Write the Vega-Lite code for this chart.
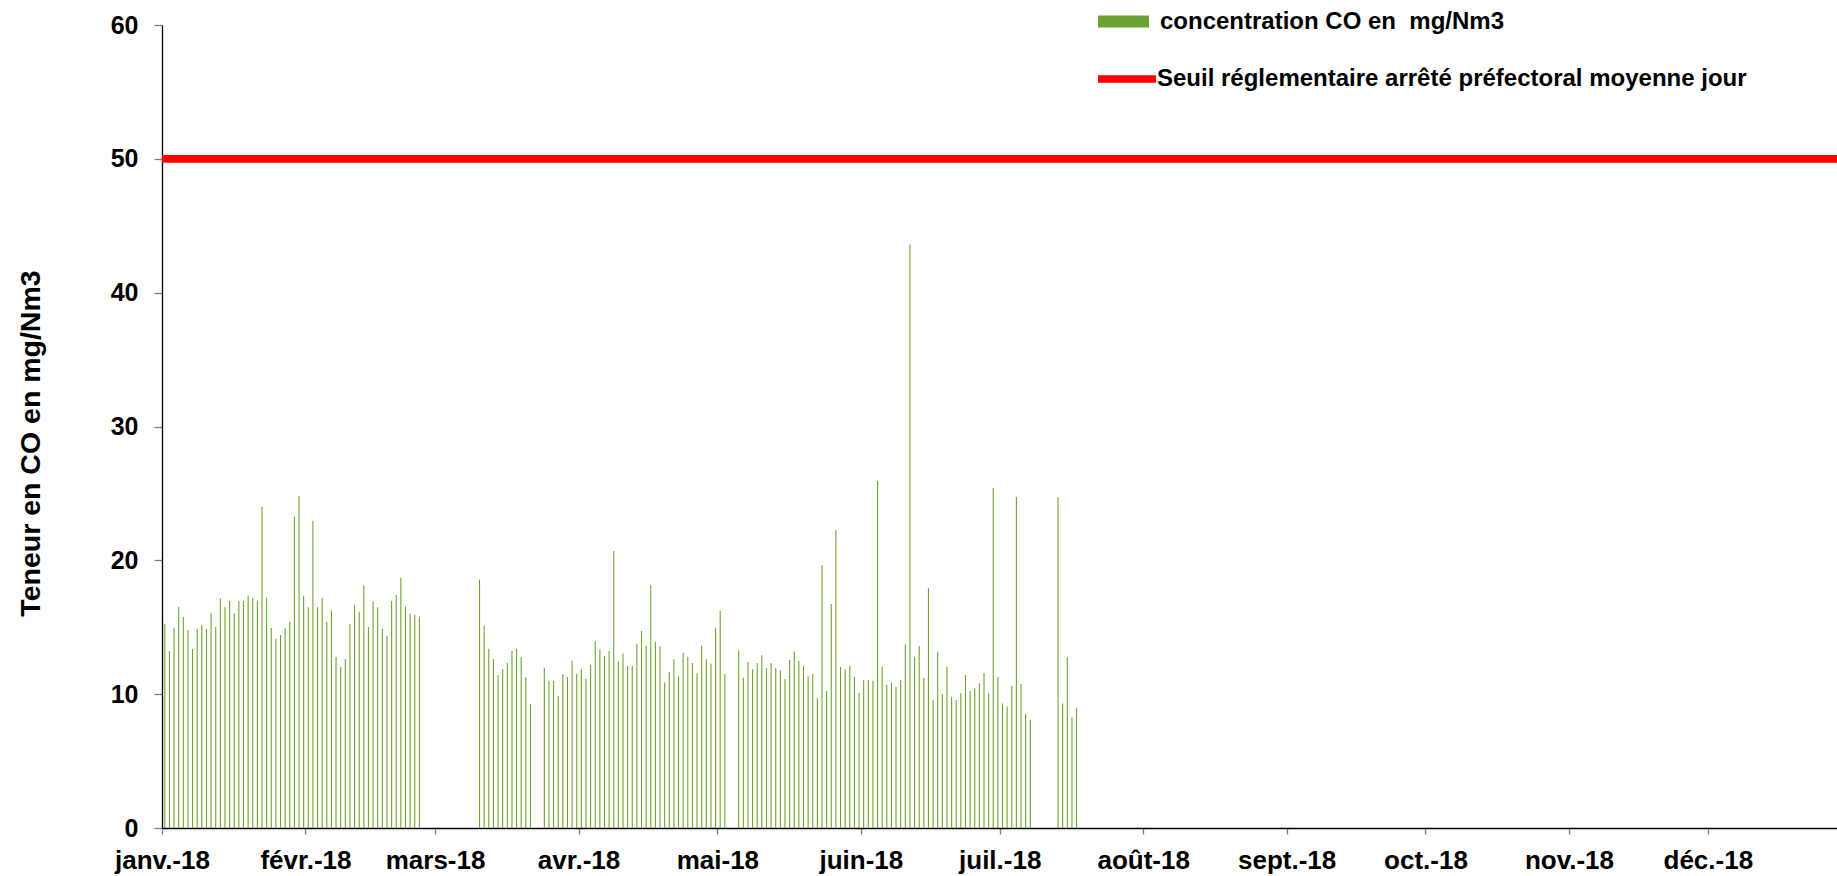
{
  "$schema": "https://vega.github.io/schema/vega-lite/v6.json",
  "width": 1675,
  "height": 803,
  "autosize": {"type": "none"},
  "padding": {"left": 162, "top": 25, "right": 0, "bottom": 48},
  "background": "white",
  "config": {"view": {"stroke": null}, "font": "Liberation Sans"},
  "datasets": {
    "co": [
      {"date": "2018-01-01", "co": 15.27}, {"date": "2018-01-02", "co": 13.22}, {"date": "2018-01-03", "co": 14.94}, {"date": "2018-01-04", "co": 16.54}, {"date": "2018-01-05", "co": 15.77}, {"date": "2018-01-06", "co": 14.79}, {"date": "2018-01-07", "co": 13.37}, {"date": "2018-01-08", "co": 14.89}, {"date": "2018-01-09", "co": 15.19}, {"date": "2018-01-10", "co": 14.87},
      {"date": "2018-01-11", "co": 16.09}, {"date": "2018-01-12", "co": 15.02}, {"date": "2018-01-13", "co": 17.14}, {"date": "2018-01-14", "co": 16.54}, {"date": "2018-01-15", "co": 16.96}, {"date": "2018-01-16", "co": 16.04}, {"date": "2018-01-17", "co": 16.96}, {"date": "2018-01-18", "co": 16.96}, {"date": "2018-01-19", "co": 17.36}, {"date": "2018-01-20", "co": 17.19},
      {"date": "2018-01-21", "co": 16.99}, {"date": "2018-01-22", "co": 24.01}, {"date": "2018-01-23", "co": 17.21}, {"date": "2018-01-24", "co": 14.94}, {"date": "2018-01-25", "co": 14.15}, {"date": "2018-01-26", "co": 14.42}, {"date": "2018-01-27", "co": 14.97}, {"date": "2018-01-28", "co": 15.42}, {"date": "2018-01-29", "co": 23.26}, {"date": "2018-01-30", "co": 24.83},
      {"date": "2018-01-31", "co": 17.33}, {"date": "2018-02-01", "co": 16.49}, {"date": "2018-02-02", "co": 22.96}, {"date": "2018-02-03", "co": 16.49}, {"date": "2018-02-04", "co": 17.21}, {"date": "2018-02-05", "co": 15.42}, {"date": "2018-02-06", "co": 16.26}, {"date": "2018-02-07", "co": 12.78}, {"date": "2018-02-08", "co": 12.03}, {"date": "2018-02-09", "co": 12.63},
      {"date": "2018-02-10", "co": 15.27}, {"date": "2018-02-11", "co": 16.69}, {"date": "2018-02-12", "co": 16.16}, {"date": "2018-02-13", "co": 18.13}, {"date": "2018-02-14", "co": 15.02}, {"date": "2018-02-15", "co": 16.94}, {"date": "2018-02-16", "co": 16.49}, {"date": "2018-02-17", "co": 14.89}, {"date": "2018-02-18", "co": 14.37}, {"date": "2018-02-19", "co": 16.96},
      {"date": "2018-02-20", "co": 17.41}, {"date": "2018-02-21", "co": 18.7}, {"date": "2018-02-22", "co": 16.54}, {"date": "2018-02-23", "co": 16.01}, {"date": "2018-02-24", "co": 15.94}, {"date": "2018-02-25", "co": 15.79},
      {"date": "2018-03-10", "co": 18.55}, {"date": "2018-03-11", "co": 15.12}, {"date": "2018-03-12", "co": 13.4}, {"date": "2018-03-13", "co": 12.63}, {"date": "2018-03-14", "co": 11.41}, {"date": "2018-03-15", "co": 11.86}, {"date": "2018-03-16", "co": 12.35}, {"date": "2018-03-17", "co": 13.23}, {"date": "2018-03-18", "co": 13.4}, {"date": "2018-03-19", "co": 12.75}, {"date": "2018-03-20", "co": 11.26}, {"date": "2018-03-21", "co": 9.29},
      {"date": "2018-03-24", "co": 11.98}, {"date": "2018-03-25", "co": 11.01}, {"date": "2018-03-26", "co": 11.01}, {"date": "2018-03-27", "co": 9.89}, {"date": "2018-03-28", "co": 11.51}, {"date": "2018-03-29", "co": 11.28}, {"date": "2018-03-30", "co": 12.5}, {"date": "2018-03-31", "co": 11.53},
      {"date": "2018-04-01", "co": 11.88}, {"date": "2018-04-02", "co": 11.16}, {"date": "2018-04-03", "co": 12.2}, {"date": "2018-04-04", "co": 13.97}, {"date": "2018-04-05", "co": 13.33}, {"date": "2018-04-06", "co": 12.85}, {"date": "2018-04-07", "co": 13.23}, {"date": "2018-04-08", "co": 20.7}, {"date": "2018-04-09", "co": 12.45}, {"date": "2018-04-10", "co": 13.03},
      {"date": "2018-04-11", "co": 12.1}, {"date": "2018-04-12", "co": 12.13}, {"date": "2018-04-13", "co": 13.77}, {"date": "2018-04-14", "co": 14.72}, {"date": "2018-04-15", "co": 13.62}, {"date": "2018-04-16", "co": 18.13}, {"date": "2018-04-17", "co": 13.92}, {"date": "2018-04-18", "co": 13.57}, {"date": "2018-04-19", "co": 10.88}, {"date": "2018-04-20", "co": 11.68},
      {"date": "2018-04-21", "co": 12.6}, {"date": "2018-04-22", "co": 11.33}, {"date": "2018-04-23", "co": 13.1}, {"date": "2018-04-24", "co": 12.8}, {"date": "2018-04-25", "co": 12.33}, {"date": "2018-04-26", "co": 11.56}, {"date": "2018-04-27", "co": 13.62}, {"date": "2018-04-28", "co": 12.6}, {"date": "2018-04-29", "co": 12.28}, {"date": "2018-04-30", "co": 14.97},
      {"date": "2018-05-01", "co": 16.24}, {"date": "2018-05-02", "co": 11.51},
      {"date": "2018-05-05", "co": 13.28}, {"date": "2018-05-06", "co": 11.23}, {"date": "2018-05-07", "co": 12.43}, {"date": "2018-05-08", "co": 11.86}, {"date": "2018-05-09", "co": 12.33}, {"date": "2018-05-10", "co": 12.9}, {"date": "2018-05-11", "co": 11.96}, {"date": "2018-05-12", "co": 12.33}, {"date": "2018-05-13", "co": 11.96}, {"date": "2018-05-14", "co": 11.78},
      {"date": "2018-05-15", "co": 11.13}, {"date": "2018-05-16", "co": 12.55}, {"date": "2018-05-17", "co": 13.18}, {"date": "2018-05-18", "co": 12.48}, {"date": "2018-05-19", "co": 12.1}, {"date": "2018-05-20", "co": 11.33}, {"date": "2018-05-21", "co": 11.51}, {"date": "2018-05-22", "co": 9.74}, {"date": "2018-05-23", "co": 19.63}, {"date": "2018-05-24", "co": 10.24},
      {"date": "2018-05-25", "co": 16.74}, {"date": "2018-05-26", "co": 22.24}, {"date": "2018-05-27", "co": 12.03}, {"date": "2018-05-28", "co": 11.86}, {"date": "2018-05-29", "co": 12.13}, {"date": "2018-05-30", "co": 11.28}, {"date": "2018-05-31", "co": 10.09},
      {"date": "2018-06-01", "co": 11.06}, {"date": "2018-06-02", "co": 11.06}, {"date": "2018-06-03", "co": 11.01}, {"date": "2018-06-04", "co": 25.93}, {"date": "2018-06-05", "co": 12.05}, {"date": "2018-06-06", "co": 10.71}, {"date": "2018-06-07", "co": 10.88}, {"date": "2018-06-08", "co": 10.54}, {"date": "2018-06-09", "co": 11.08}, {"date": "2018-06-10", "co": 13.72},
      {"date": "2018-06-11", "co": 43.6}, {"date": "2018-06-12", "co": 12.8}, {"date": "2018-06-13", "co": 13.6}, {"date": "2018-06-14", "co": 11.23}, {"date": "2018-06-15", "co": 17.91}, {"date": "2018-06-16", "co": 9.54}, {"date": "2018-06-17", "co": 13.15}, {"date": "2018-06-18", "co": 9.99}, {"date": "2018-06-19", "co": 12.05}, {"date": "2018-06-20", "co": 9.79},
      {"date": "2018-06-21", "co": 9.56}, {"date": "2018-06-22", "co": 10.06}, {"date": "2018-06-23", "co": 11.43}, {"date": "2018-06-24", "co": 10.24}, {"date": "2018-06-25", "co": 10.44}, {"date": "2018-06-26", "co": 10.81}, {"date": "2018-06-27", "co": 11.58}, {"date": "2018-06-28", "co": 10.06}, {"date": "2018-06-29", "co": 25.4}, {"date": "2018-06-30", "co": 11.28},
      {"date": "2018-07-01", "co": 9.31}, {"date": "2018-07-02", "co": 9.07}, {"date": "2018-07-03", "co": 10.61}, {"date": "2018-07-04", "co": 24.73}, {"date": "2018-07-05", "co": 10.76}, {"date": "2018-07-06", "co": 8.54}, {"date": "2018-07-07", "co": 8.09},
      {"date": "2018-07-13", "co": 24.71}, {"date": "2018-07-14", "co": 9.31}, {"date": "2018-07-15", "co": 12.78}, {"date": "2018-07-16", "co": 8.27}, {"date": "2018-07-17", "co": 8.99}
    ],
    "seuil": [
      {"seuil": 50, "serie": "Seuil réglementaire arrêté préfectoral moyenne jour"}
    ]
  },
  "layer": [
    {
      "data": {"name": "co"},
      "mark": {"type": "bar", "width": {"band": 0.45}},
      "encoding": {
        "x": {
          "field": "date",
          "type": "temporal",
          "timeUnit": "utcyearmonthdate",
          "scale": {
            "type": "utc",
            "domain": [
              {"year": 2018, "month": 1, "date": 1, "utc": true},
              {"year": 2018, "month": 12, "date": 28, "hours": 22, "utc": true}
            ]
          },
          "axis": {
            "title": null,
            "tickCount": {"interval": "month", "step": 1},
            "labelExpr": "['janv.','févr.','mars','avr.','mai','juin','juil.','août','sept.','oct.','nov.','déc.'][utcmonth(datum.value)] + '-18'",
            "labelFont": "Liberation Sans",
            "labelFontSize": 26,
            "labelFontWeight": "bold",
            "labelColor": "#000000",
            "labelPadding": 13,
            "labelFlush": false,
            "labelOverlap": false,
            "tickSize": 6,
            "tickColor": "#808080",
            "tickWidth": 1.3,
            "domainColor": "#000000",
            "domainWidth": 1.3,
            "grid": false
          }
        },
        "y": {
          "field": "co",
          "type": "quantitative",
          "scale": {"domain": [0, 60], "nice": false},
          "axis": {
            "values": [0, 10, 20, 30, 40, 50, 60],
            "title": "Teneur en CO en mg/Nm3",
            "titleFont": "Liberation Sans",
            "titleFontSize": 28.5,
            "titleFontWeight": "bold",
            "titleColor": "#000000",
            "titleBaseline": "alphabetic",
            "titleX": -123,
            "titleY": 418,
            "labelFont": "Liberation Sans",
            "labelFontSize": 25,
            "labelFontWeight": "bold",
            "labelColor": "#000000",
            "labelPadding": 16,
            "tickSize": 8,
            "tickColor": "#808080",
            "tickWidth": 1.3,
            "domainColor": "#000000",
            "domainWidth": 1.3,
            "grid": false
          }
        },
        "fill": {
          "datum": "concentration CO en \u00a0mg/Nm3",
          "type": "nominal",
          "scale": {"range": ["#6BA330"]},
          "legend": {
            "orient": "none",
            "legendX": 936,
            "legendY": -29,
            "title": null,
            "padding": 0,
            "offset": 0,
            "symbolType": "M-1,-0.235H1V0.235H-1Z",
            "symbolSize": 2601,
            "symbolStrokeWidth": 0,
            "labelFont": "Liberation Sans",
            "labelFontSize": 24,
            "labelFontWeight": "bold",
            "labelColor": "#000000",
            "labelOffset": 11,
            "labelLimit": 1000
          }
        }
      }
    },
    {
      "data": {"name": "seuil"},
      "mark": {"type": "rule", "strokeWidth": 7.7},
      "encoding": {
        "y": {"field": "seuil", "type": "quantitative"},
        "stroke": {
          "field": "serie",
          "type": "nominal",
          "scale": {"range": ["#FF0000"]},
          "legend": {
            "orient": "none",
            "legendX": 932,
            "legendY": 21,
            "title": null,
            "padding": 0,
            "offset": 0,
            "symbolType": "stroke",
            "symbolSize": 3364,
            "symbolStrokeWidth": 7.7,
            "labelFont": "Liberation Sans",
            "labelFontSize": 24,
            "labelFontWeight": "bold",
            "labelColor": "#000000",
            "labelOffset": -3,
            "labelLimit": 1000
          }
        }
      }
    }
  ]
}
